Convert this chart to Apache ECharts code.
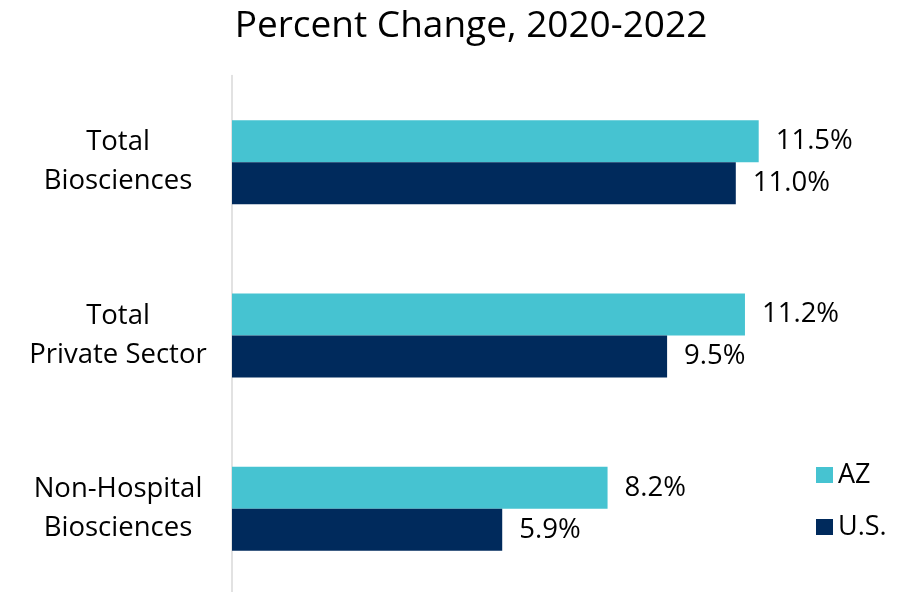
<!DOCTYPE html>
<html>
<head>
<meta charset="utf-8">
<script src="https://cdn.jsdelivr.net/npm/echarts@6/dist/echarts.min.js"></script>
<style>html,body{margin:0;padding:0;background:#fff;}#c{width:902px;height:592px;}</style>
</head>
<body>
<div id="c"></div>
<script>
const categories = ['Total\nBiosciences', 'Total\nPrivate Sector', 'Non-Hospital\nBiosciences'];
const seriesNames = ['AZ', 'U.S.'];
const azValues = [11.5, 11.2, 8.2];
const usValues = [11.0, 9.5, 5.9];
const titleText = 'Percent Change, 2020-2022';

const FONT = 'Open Sans';
const chart = echarts.init(document.getElementById('c'), null, {renderer: 'canvas'});
chart.setOption({
  animation: false,
  backgroundColor: '#fff',
  title: {
    text: titleText,
    left: 466,
    textAlign: 'center',
    top: 3,
    textStyle: {fontFamily: FONT, fontSize: 37, fontWeight: 'normal', color: '#000'}
  },
  legend: {
    orient: 'vertical',
    left: 811,
    top: 455,
    itemWidth: 17,
    itemHeight: 16,
    itemGap: 22,
    itemTextGap: 10,
    icon: 'rect',
    data: seriesNames,
    textStyle: {fontFamily: FONT, fontSize: 27, color: '#000', lineHeight: 30}
  },
  grid: {left: 232, top: 75.5, width: 14 * 45.8, height: 520, containLabel: false, outerBoundsMode: 'none'},
  xAxis: {
    type: 'value', min: 0, max: 14,
    show: false
  },
  yAxis: {
    type: 'category',
    data: categories,
    inverse: true,
    axisLine: {show: true, lineStyle: {color: '#d9d9d9', width: 1.5}},
    axisTick: {show: false},
    axisLabel: {
      align: 'center', margin: 114,
      fontFamily: FONT, fontSize: 27.5, color: '#000', lineHeight: 39
    }
  },
  series: [
    {
      name: seriesNames[0], type: 'bar', data: azValues,
      barWidth: 42, barGap: '0%',
      itemStyle: {color: '#46C3D1'},
      label: {show: true, position: 'right', distance: 17, formatter: p => p.value.toFixed(1) + '%',
        fontFamily: FONT, fontSize: 27.5, color: '#000'}
    },
    {
      name: seriesNames[1], type: 'bar', data: usValues,
      barWidth: 42, barGap: '0%',
      itemStyle: {color: '#002A5C'},
      label: {show: true, position: 'right', distance: 17, formatter: p => p.value.toFixed(1) + '%',
        fontFamily: FONT, fontSize: 27.5, color: '#000'}
    }
  ]
});
</script>
</body>
</html>
